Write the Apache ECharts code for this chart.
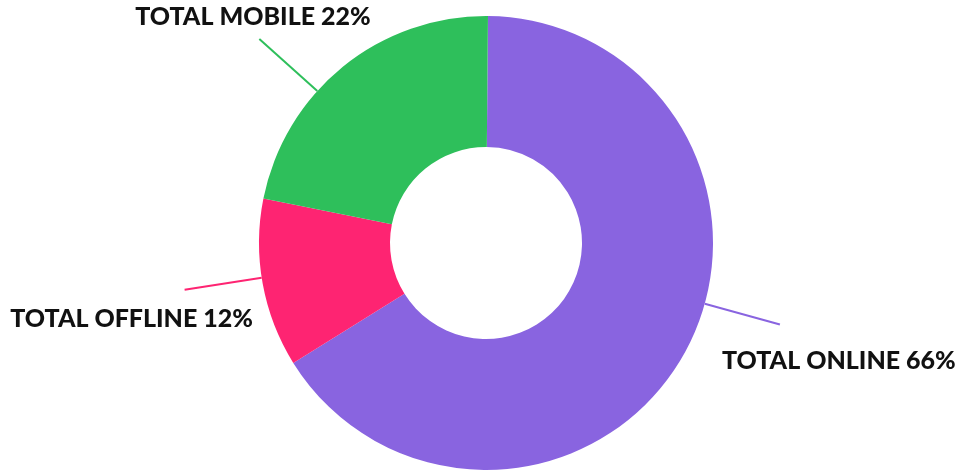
<!DOCTYPE html>
<html>
<head>
<meta charset="utf-8">
<script src="https://cdn.jsdelivr.net/npm/echarts@6/dist/echarts.min.js"></script>
<style>
  html, body { margin: 0; padding: 0; background: #fff; }
  #chart { width: 959px; height: 470px; }
</style>
</head>
<body>
<div id="chart"></div>
<script>
const channels = ['TOTAL ONLINE', 'TOTAL OFFLINE', 'TOTAL MOBILE'];
const shares = [66, 12, 22];
const colors = ['#8964E0', '#FE2472', '#2EBF5B'];

// text nudges away from the end of the label line
const labelDx = [-35, 72, 82];
const labelDy = [-31, 21, 11];
// the original tool does not anchor the leader lines at slice middles
const lineTurn = [13.8, -1.5, 8.9];

const CX = 486, CY = 243;

const chart = echarts.init(document.getElementById('chart'));

function turnPoint(p, deg) {
  const r = Math.hypot(p[0] - CX, CY - p[1]);
  const a = Math.atan2(CY - p[1], p[0] - CX) + deg * Math.PI / 180;
  return [CX + r * Math.cos(a), CY - r * Math.sin(a)];
}

const option = {
  backgroundColor: '#fff',
  animation: false,
  series: [{
    type: 'pie',
    center: [CX, CY],
    radius: [96, 227],
    startAngle: 89.5,
    clockwise: true,
    avoidLabelOverlap: false,
    data: channels.map((name, i) => ({
      name: name,
      value: shares[i],
      itemStyle: { color: colors[i] }
    })),
    label: {
      show: true,
      position: 'outside',
      formatter: '{b} {c}%',
      color: '#111',
      fontFamily: 'Lato',
      fontWeight: 900,
      fontSize: 25
    },
    labelLine: {
      show: true,
      length: 78,
      length2: 0,
      lineStyle: { width: 2 }
    },
    labelLayout: function (params) {
      const i = params.dataIndex;
      const out = { dx: labelDx[i], dy: labelDy[i] };
      if (params.labelLinePoints) {
        out.labelLinePoints = params.labelLinePoints.map(p => turnPoint(p, lineTurn[i]));
      }
      return out;
    },
    emphasis: { disabled: true }
  }]
};

chart.setOption(option);
</script>
</body>
</html>
